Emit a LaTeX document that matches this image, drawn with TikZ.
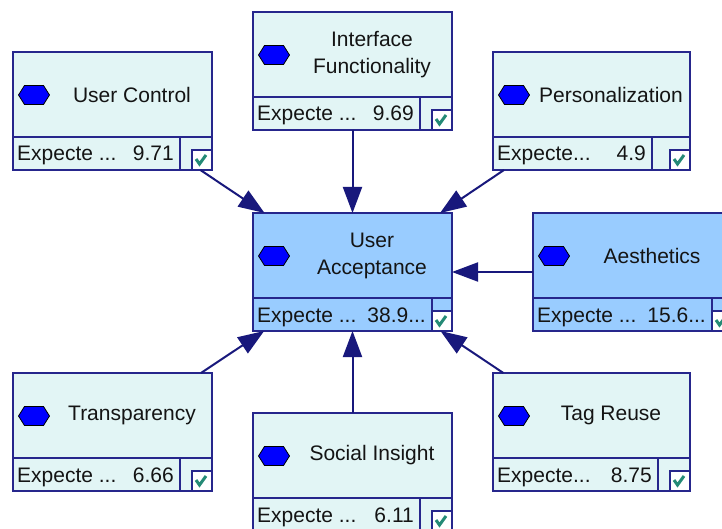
\documentclass[tikz,border=0pt]{standalone}
\usepackage{fontspec}
\setmainfont{Liberation Sans}
\usetikzlibrary{arrows.meta}

\definecolor{framecol}{RGB}{38,38,140}
\definecolor{arrowcol}{RGB}{24,24,124}
\definecolor{paleteal}{RGB}{226,245,245}
\definecolor{skyblue}{RGB}{153,204,255}
\definecolor{hexblue}{RGB}{0,0,255}
\definecolor{checkcol}{RGB}{36,138,118}
\definecolor{inkcol}{RGB}{20,20,20}

\tikzset{
  nodebox/.style={draw=framecol, line width=2pt, rectangle, outer sep=0pt, inner sep=0pt},
  frame/.style={draw=framecol, line width=2pt},
  titletext/.style={text=inkcol, align=center, inner sep=0pt,
    font=\fontsize{21}{27}\selectfont},
  fieldtext/.style={text=inkcol, inner sep=0pt, font=\fontsize{21}{24}\selectfont},
  influence/.style={draw=arrowcol, line width=2pt,
    -{Triangle[length=26pt,width=19pt]}},
}

% #1 name, #2 left, #3 top, #4 width, #5 fill, #6 title, #7 field label,
% #8 field value, #9 offset of the value/checkbox divider from the left edge
\newcommand{\chancebox}[9]{%
  \node[nodebox, fill=#5, minimum width=#4pt, minimum height=118pt]
    (#1) at (#2+#4/2, #3+59) {};
  \draw[frame] (#2,#3+85) -- (#2+#4,#3+85);
  \draw[frame] (#2+#9,#3+85) -- (#2+#9,#3+118);
  \draw[frame, fill=white] (#2+#4-20,#3+98) rectangle (#2+#4,#3+118);
  \draw[checkcol, line width=3pt, line join=miter]
    (#2+#4-16,#3+107) -- (#2+#4-12.5,#3+112) -- (#2+#4-6,#3+103);
  \draw[black, fill=hexblue, line width=0.8pt]
    (#2+5.5,#3+43) -- (#2+11.5,#3+33.5) -- (#2+30.5,#3+33.5) --
    (#2+36.5,#3+43) -- (#2+30.5,#3+52.5) -- (#2+11.5,#3+52.5) -- cycle;
  \node[titletext] (#1-title) at (#2+#4/2+19.5, #3+42.5) {#6};
  \node[fieldtext, anchor=base west] (#1-label) at (#2+4, #3+109) {#7};
  \node[fieldtext, anchor=base east] (#1-value) at (#2+#9-6, #3+109) {#8};
}

\begin{document}
\begin{tikzpicture}[x=1pt, y=-1pt]
  \useasboundingbox (0,0) rectangle (722,529);
  \clip (0,0) rectangle (722,529);
  \fill[white] (0,0) rectangle (722,529);

  \chancebox{uc}{13}{52}{199}{paleteal}{User Control}{Expecte ...}{9.71}{167}
  \chancebox{ifn}{253}{12}{199}{paleteal}{Interface\\Functionality}{Expecte ...}{9.69}{167}
  \chancebox{pers}{493}{52}{197}{paleteal}{Personalization}{Expecte...}{4.9}{159}
  \chancebox{ua}{253}{213}{199}{skyblue}{User\\Acceptance}{Expecte ...}{38.9...}{179}
  \chancebox{aes}{533}{213}{199}{skyblue}{Aesthetics}{Expecte ...}{15.6...}{179}
  \chancebox{tr}{13}{373}{199}{paleteal}{Transparency}{Expecte ...}{6.66}{167}
  \chancebox{si}{253}{413}{199}{paleteal}{Social Insight}{Expecte ...}{6.11}{167}
  \chancebox{tag}{493}{373}{197}{paleteal}{Tag Reuse}{Expecte...}{8.75}{165}

  % influences into the utility node
  \draw[influence] (uc) -- (ua);
  \draw[influence] (ifn) -- (ua);
  \draw[influence] (pers) -- (ua);
  \draw[influence] (aes) -- (ua);
  \draw[influence] (tr) -- (ua);
  \draw[influence] (si) -- (ua);
  \draw[influence] (tag) -- (ua);
\end{tikzpicture}
\end{document}
